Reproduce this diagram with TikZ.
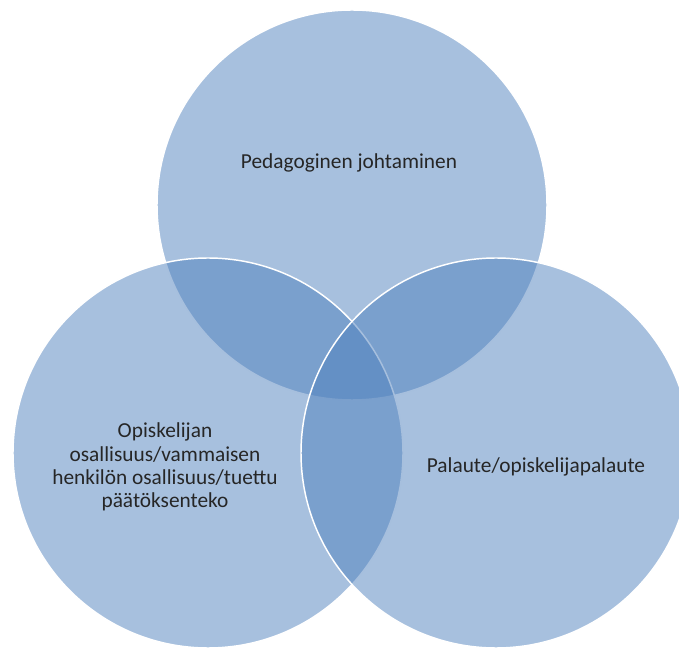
\documentclass[tikz,border=0pt]{standalone}
\usepackage{fontspec}
\setmainfont{Carlito}
\usetikzlibrary{positioning}
\definecolor{accent}{HTML}{4F81BD}
\definecolor{txt}{HTML}{262626}

\begin{document}
\begin{tikzpicture}[x=0.75pt,y=-0.75pt,
  venn/.style={circle,draw=white,line width=1.1pt,fill=accent,fill opacity=0.5,minimum size=292.5pt,inner sep=0pt},
  label/.style={text=txt,font=\fontsize{16}{17.4}\selectfont,align=center}]
\useasboundingbox (0,0) rectangle (679,648);
\node[venn] (top) at (352,205) {};
\node[venn] (left) at (208,453) {};
\node[venn] (right) at (496,453) {};
\node[label] (toptext) at (349,163) {Pedagoginen johtaminen};
\node[label] (lefttext) at (165,467) {Opiskelijan\\osallisuus/vammaisen\\henkilön osallisuus/tuettu\\päätöksenteko};
\node[label] (righttext) at (536,467) {Palaute/opiskelijapalaute};
\end{tikzpicture}
\end{document}
